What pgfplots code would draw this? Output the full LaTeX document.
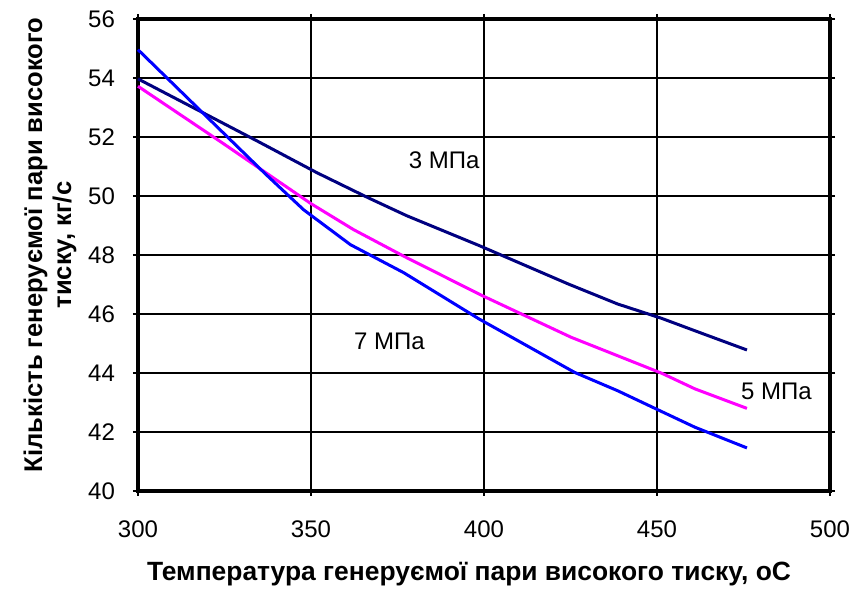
\documentclass[border=0pt]{standalone}
\usepackage{fontspec}
\setmainfont{Liberation Sans}
\usepackage{pgfplots}
\pgfplotsset{compat=1.18}
\definecolor{navyc}{RGB}{0,0,128}
\definecolor{magc}{RGB}{255,0,255}
\definecolor{bluec}{RGB}{0,0,255}
\begin{document}
\begin{tikzpicture}
\path[use as bounding box] (-69pt,-49pt) rectangle (357.5pt,245.5pt);
\begin{axis}[
  scale only axis,
  width=346pt, height=236pt,
  xmin=300, xmax=500, ymin=40, ymax=56,
  xtick={300,350,...,500}, ytick={40,42,...,56},
  grid=major,
  grid style={black, line width=0.85pt},
  axis line style={black, line width=1.6pt},
  tick align=outside,
  major tick length=2.5pt,
  tick style={black, line width=0.85pt},
  /pgf/number format/assume math mode=true,
  ticklabel style={font=\fontsize{12}{14}\selectfont},
  xticklabel style={yshift=-9pt},
  yticklabel style={xshift=-5.5pt},
  xlabel={\textbf{Температура генеруємої пари високого тиску, оС}},
  xlabel style={font=\fontsize{13.2}{15}\selectfont, yshift=-5pt, xshift=-7.5pt},
  ylabel={\textbf{Кількість генеруємої пари високого}\\\textbf{тиску, кг/с}},
  ylabel style={font=\fontsize{12.8}{14.5}\selectfont, align=center, xshift=5pt, yshift=-1pt},
  clip=false,
]
\addplot[navyc, line width=1.5pt] coordinates {
(300,53.97) (318,52.87) (335,51.83) (351.7,50.79) (366.7,49.93) (377.7,49.33) (398.6,48.32) (424.3,47.02) (438.6,46.34) (451.4,45.85) (461,45.43) (476,44.78)
};
\addplot[magc, line width=1.5pt] coordinates {
(300,53.72) (325,51.75) (350,49.74) (362.3,48.86) (376.8,47.96) (399,46.65) (425.2,45.21) (451.4,43.99) (461,43.46) (476,42.80)
};
\addplot[bluec, line width=1.5pt] coordinates {
(300,54.96) (318,52.9) (336.8,50.75) (347.9,49.53) (361.4,48.35) (376.8,47.40) (398.6,45.83) (426.2,44.02) (438.6,43.40) (451.4,42.69) (461,42.16) (476,41.46)
};
\node[font=\fontsize{12}{14}\selectfont] at (axis cs:388.5,51.2) {3 МПа};
\node[font=\fontsize{12}{14}\selectfont] at (axis cs:372.7,45.07) {7 МПа};
\node[font=\fontsize{12}{14}\selectfont] at (axis cs:484.5,43.37) {5 МПа};
\end{axis}
\end{tikzpicture}
\end{document}
